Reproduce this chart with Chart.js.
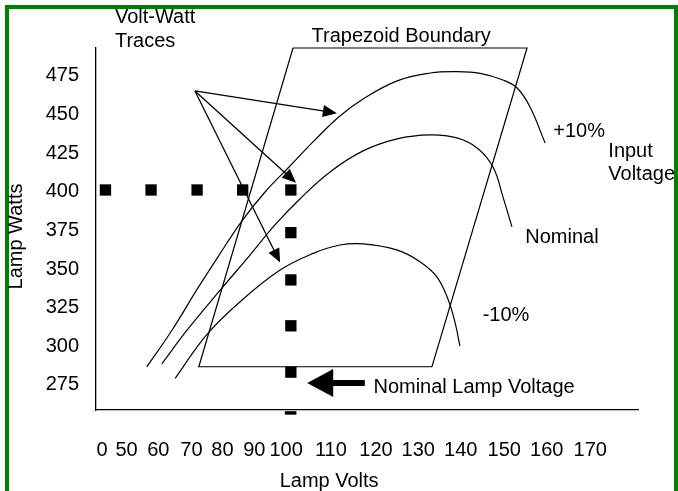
<!DOCTYPE html>
<html>
<head>
<meta charset="utf-8">
<script src="https://cdn.jsdelivr.net/npm/chart.js@4.4.1/dist/chart.umd.min.js"></script>
<style>
    html, body { margin: 0; padding: 0; background: #fff; overflow: hidden; }
    #frame { position: absolute; left: 5px; top: 5px; width: 665px; height: 500px; border: 4px solid #008000; border-bottom: none; }
    #myChart { position: absolute; left: 0; top: 0; }
</style>
</head>
<body>
<div id="frame"></div>
<canvas id="myChart" width="678" height="491"></canvas>
<script>
// volt-watt traces (lamp volts, lamp watts)
const plusVolts = [66.7, 72.6, 78.6, 83.7, 88.8, 94.2, 100, 105.8, 111.6, 117, 124.9, 132.6, 138.8, 144.2, 149.5, 152.8, 155.8, 159.3];
const plusWatts = [286.7, 310.6, 337.8, 359.8, 381.1, 399.9, 416.7, 433.6, 449.1, 460.1, 471.8, 476.9, 477.8, 476.7, 472.4, 467.2, 454.9, 431.6];

const nomVolts = [70.2, 76.1, 84.2, 90.7, 96.5, 102.3, 109.3, 117, 124.9, 132.6, 138.8, 143.5, 147.2, 149.5, 151.6];
const nomWatts = [288.6, 310.6, 337.8, 359.1, 378.6, 395.4, 412.9, 426.5, 434.3, 436.9, 434.9, 428.4, 416.1, 396.7, 377.3];

const minusVolts = [73.3, 80.6, 88.4, 97.7, 105.4, 111.6, 117, 124.8, 130.2, 134.1, 136.8, 138.4, 139.5];
const minusWatts = [279.3, 307.4, 328.9, 349.4, 360.2, 365.6, 366.3, 362.4, 354.8, 345.1, 330, 315, 300.2];

// trapezoid boundary corners
const trapVolts = [100.7, 155.1, 133, 78.8, 100.7];
const trapWatts = [493.1, 493.1, 286.8, 286.8, 493.1];

// nominal 400 W line and nominal lamp voltage line (square dots)
const dotVolts = [57.1, 67.7, 78.4, 89, 100.2, 100.2, 100.2, 100.2, 100.2];
const dotWatts = [401.2, 401.2, 401.2, 401.2, 401.2, 373.6, 343, 313.3, 283.3];

const yTicks = [275, 300, 325, 350, 375, 400, 425, 450, 475];
const xTickLabels = ['0', '50', '60', '70', '80', '90', '100', '110', '120', '130', '140', '150', '160', '170'];
const xTickAt = [56.3, 62, 69.4, 77.1, 84.3, 91.7, 99.1, 109.5, 120, 129.8, 139.7, 149.8, 159.7, 169.8];

const pts = (xs, ys) => xs.map((v, i) => ({x: v, y: ys[i]}));

const FONT = '"Liberation Sans", Arial, sans-serif';

// text + arrows drawn on top, placed with the chart scales
const notes = [
    ['Volt-Watt', 59.3, 509.1],
    ['Traces', 59.3, 494.0],
    ['Trapezoid Boundary', 105.0, 497.2],
    ['+10%', 161.2, 435.7],
    ['Input', 174.0, 422.8],
    ['Voltage', 174.0, 407.7],
    ['Nominal', 154.7, 366.7],
    ['-10%', 144.8, 316.4],
    ['Nominal Lamp Voltage', 119.4, 269.6]
];
const arrowFrom = [77.9, 465.3];
const arrowTo = [[110.9, 450.9], [101.4, 405.9], [97.7, 354.2]];

const annotate = {
    id: 'annotate',
    afterDatasetsDraw(chart) {
        const ctx = chart.ctx;
        const px = v => chart.scales.x.getPixelForValue(v);
        const py = w => chart.scales.y.getPixelForValue(w);

        function arrow(x0, y0, x1, y1, len, half, width) {
            const a = Math.atan2(y1 - y0, x1 - x0);
            const c = Math.cos(a), s = Math.sin(a);
            ctx.lineWidth = width;
            ctx.beginPath();
            ctx.moveTo(x0, y0);
            ctx.lineTo(x1 - c * len * 0.8, y1 - s * len * 0.8);
            ctx.stroke();
            ctx.beginPath();
            ctx.moveTo(x1, y1);
            ctx.lineTo(x1 - c * len + s * half, y1 - s * len - c * half);
            ctx.lineTo(x1 - c * len - s * half, y1 - s * len + c * half);
            ctx.closePath();
            ctx.fill();
        }

        ctx.save();
        ctx.fillStyle = '#000';
        ctx.strokeStyle = '#000';
        ctx.font = '20px ' + FONT;
        ctx.textAlign = 'left';
        ctx.textBaseline = 'alphabetic';
        notes.forEach(n => ctx.fillText(n[0], px(n[1]), py(n[2])));

        arrowTo.forEach(t => arrow(px(arrowFrom[0]), py(arrowFrom[1]), px(t[0]), py(t[1]), 14, 6, 1.3));
        arrow(px(117.4), py(276.3), px(104), py(276.3), 26, 14, 6);

        // axis titles
        ctx.textAlign = 'center';
        ctx.fillText('Lamp Volts', px(109.1), py(209.2));
        ctx.translate(px(37.8), py(371.1));
        ctx.rotate(-Math.PI / 2);
        ctx.fillText('Lamp Watts', 0, 0);
        ctx.restore();
    }
};

const canvasElement = document.getElementById('myChart');

const line = (data, extra) => Object.assign({
    data: data,
    showLine: true,
    borderColor: '#000',
    borderWidth: 1.2,
    pointRadius: 0,
    tension: 0.4,
    clip: false
}, extra || {});

const config = {
    type: 'scatter',
    data: {
        datasets: [
            line(pts(plusVolts, plusWatts)),
            line(pts(nomVolts, nomWatts)),
            line(pts(minusVolts, minusWatts)),
            line(pts(trapVolts, trapWatts), {tension: 0}),
            {
                data: pts(dotVolts, dotWatts),
                pointStyle: 'rect',
                pointRadius: 8,
                backgroundColor: '#000',
                borderWidth: 0,
                clip: false
            },
            line(pts([98.8, 101.5], [256.9, 256.9]), {tension: 0, borderWidth: 3.5})
        ]
    },
    options: {
        responsive: false,
        animation: false,
        events: [],
        layout: {padding: {left: 0, top: 48, right: 40, bottom: 0}},
        plugins: {legend: {display: false}, tooltip: {enabled: false}},
        scales: {
            x: {
                type: 'linear',
                min: 54.9,
                max: 180.9,
                bounds: 'data',
                afterBuildTicks: s => { s.ticks = xTickAt.map(v => ({value: v})); },
                afterFit: s => { s.height = 81; },
                grid: {drawOnChartArea: false, drawTicks: false},
                border: {display: true, color: '#000', width: 1.3},
                ticks: {
                    autoSkip: false,
                    maxRotation: 0,
                    padding: 28,
                    color: '#000',
                    font: {family: FONT, size: 20},
                    callback: (v, i) => xTickLabels[i]
                }
            },
            y: {
                min: 258.8,
                max: 493.1,
                bounds: 'data',
                afterBuildTicks: s => { s.ticks = yTicks.map(v => ({value: v})); },
                afterFit: s => { s.width = 96; },
                grid: {drawOnChartArea: false, drawTicks: false},
                border: {display: true, color: '#000', width: 1.3},
                ticks: {
                    padding: 17,
                    color: '#000',
                    font: {family: FONT, size: 20},
                    callback: v => String(v)
                }
            }
        }
    },
    plugins: [annotate]
};

const myChart = new Chart(canvasElement, config);
</script>
</body>
</html>
